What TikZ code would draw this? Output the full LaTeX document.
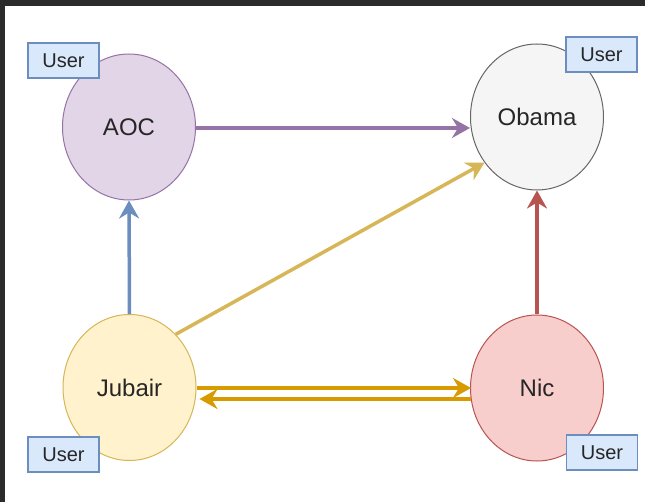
\documentclass[tikz,border=0pt]{standalone}
\usepackage{fontspec}
\setmainfont{Liberation Sans}
\usetikzlibrary{shapes.geometric,arrows.meta}

\definecolor{frame}{HTML}{2B2B2B}
\definecolor{purpleFill}{HTML}{E1D5E7}
\definecolor{purpleLine}{HTML}{9673A6}
\definecolor{greyFill}{HTML}{F5F5F5}
\definecolor{greyLine}{HTML}{666666}
\definecolor{yellowFill}{HTML}{FFF2CC}
\definecolor{yellowLine}{HTML}{D6B656}
\definecolor{redFill}{HTML}{F8CECC}
\definecolor{redLine}{HTML}{B85450}
\definecolor{blueFill}{HTML}{DAE8FC}
\definecolor{blueLine}{HTML}{6C8EBF}
\definecolor{orangeLine}{HTML}{D79B00}

\tikzset{
  person/.style={ellipse, draw, line width=1pt, minimum width=133pt,
    minimum height=146pt, inner sep=0pt, font=\fontsize{24}{28}\selectfont,
    text=black!85},
  tag/.style={rectangle, draw=blueLine, fill=blueFill, line width=1.2pt,
    minimum width=71pt, minimum height=35pt, inner sep=0pt,
    font=\fontsize{20}{24}\selectfont, text=black!85},
  link/.style={line width=3.5pt,
    -{Stealth[length=18pt, width=20pt, inset=6pt]}}
}

\begin{document}
\begin{tikzpicture}[x=1pt, y=-1pt]
  % canvas and the dark window edge
  \fill[white] (0,0) rectangle (645,502);
  \fill[frame] (0,0) rectangle (645,6);
  \fill[frame] (0,0) rectangle (5,502);
  \useasboundingbox (0,0) rectangle (645,502);

  % people
  \node[person, draw=purpleLine, fill=purpleFill] (aoc) at (129,127) {AOC};
  \node[person, draw=greyLine, fill=greyFill] (oba) at (537,117) {Obama};
  \node[person, draw=yellowLine, fill=yellowFill] (jub) at (129.5,387.5) {Jubair};
  \node[person, draw=redLine, fill=redFill] (nic) at (537,388) {Nic};

  % role tags
  \node[tag] (aocU) at (63.5,60.5) {User};
  \node[tag] (obaU) at (601.5,54.5) {User};
  \node[tag] (jubU) at (63.5,454.5) {User};
  \node[tag] (nicU) at (602,452.5) {User};

  % follow links
  \coordinate (aocOut) at ([yshift=-1pt]aoc.east);
  \draw[link, purpleLine] (aocOut) -- (aocOut -| oba.west);
  \draw[link, blueLine] (jub.north) -- (aoc.south);
  \draw[link, redLine] (nic.north) -- (oba.south);
  \draw[link, yellowLine] (jub.49) -- (oba.221);

  \coordinate (jubOut) at ([yshift=-0.5pt]jub.east);
  \draw[link, orangeLine] (jubOut) -- ([xshift=1pt]jubOut -| nic.west);
  \coordinate (nicOut) at ([yshift=-11pt]nic.west);
  \draw[link, orangeLine] ([xshift=1pt]nicOut) -- ([xshift=3pt]nicOut -| jub.east);
\end{tikzpicture}
\end{document}
